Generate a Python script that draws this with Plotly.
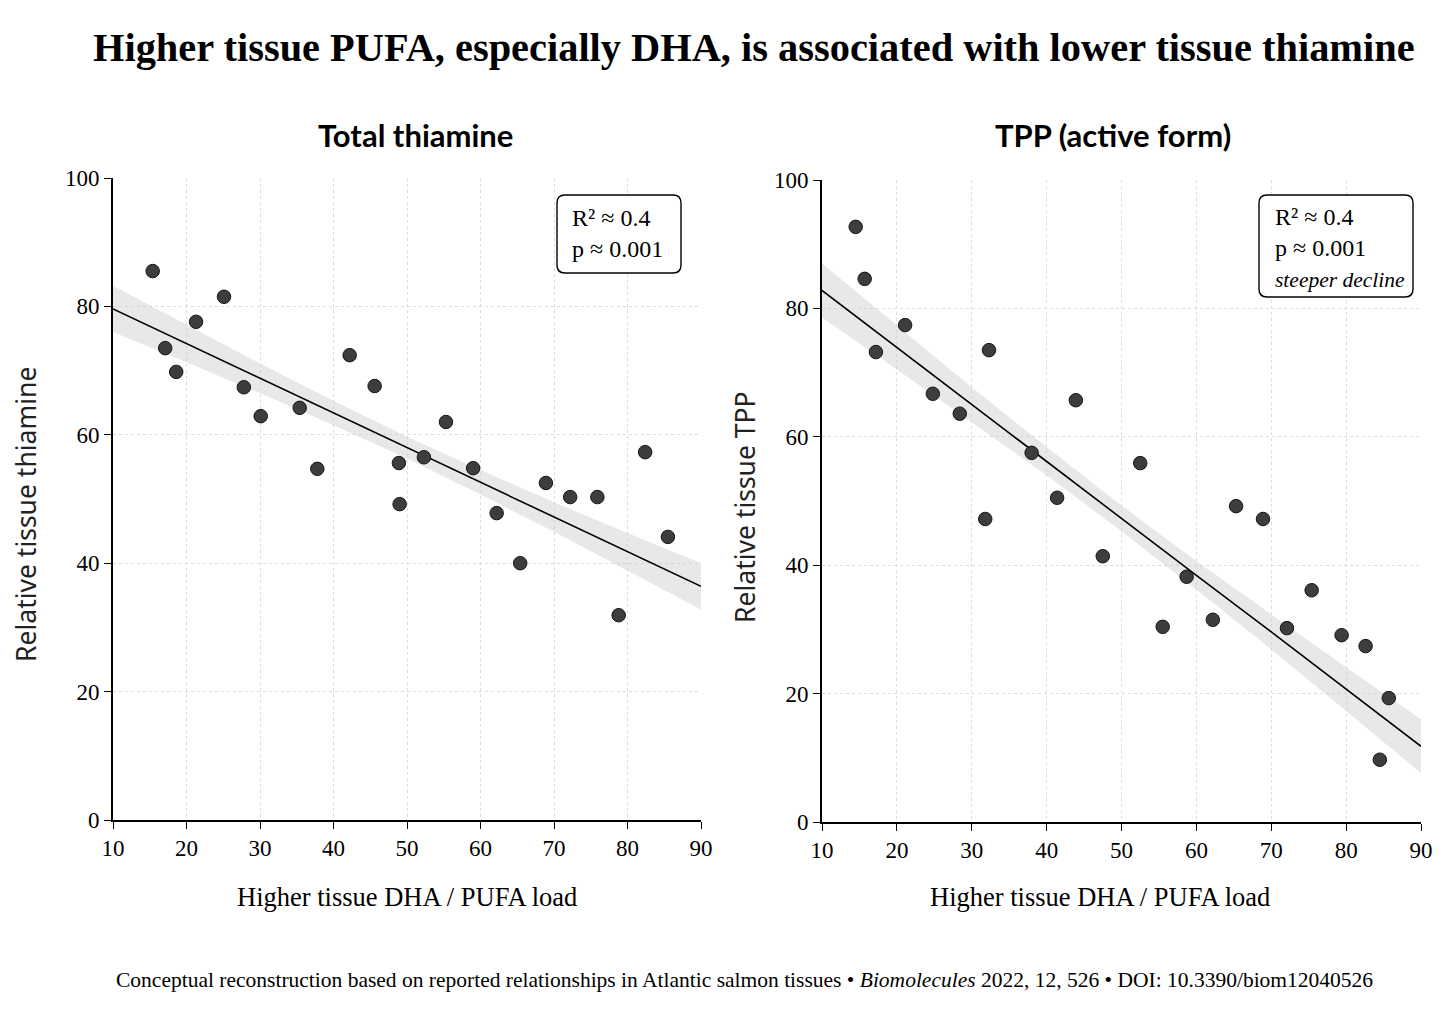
import plotly.graph_objects as go

# Total thiamine panel
thia_x = [15.4, 17.1, 18.6, 21.3, 25.1, 27.8, 30.1, 35.4, 37.8, 42.2, 45.6, 48.9,
          49.0, 52.3, 55.3, 59.0, 62.2, 65.4, 68.9, 72.2, 75.9, 78.8, 82.4, 85.5]
thia_y = [85.5, 73.5, 69.8, 77.6, 81.5, 67.4, 62.9, 64.2, 54.7, 72.4, 67.6, 55.6,
          49.2, 56.5, 62.0, 54.8, 47.8, 40.0, 52.5, 50.3, 50.3, 31.9, 57.3, 44.1]

# TPP panel
tpp_x = [14.5, 15.7, 17.2, 21.1, 24.8, 28.4, 31.8, 32.3, 38.0, 41.4, 43.9, 47.5,
         52.5, 55.5, 58.7, 62.2, 65.3, 68.9, 72.1, 75.4, 79.4, 82.6, 85.7, 84.5]
tpp_y = [92.7, 84.6, 73.2, 77.4, 66.7, 63.6, 47.2, 73.5, 57.5, 50.5, 65.7, 41.4,
         55.9, 30.4, 38.2, 31.5, 49.2, 47.2, 30.2, 36.1, 29.1, 27.4, 19.3, 9.7]

# fitted trend lines and confidence band half-widths, as drawn in the reference
fit_x = [10, 20, 30, 40, 50, 60, 70, 80, 90]
thia_fit = [79.6, 74.2, 68.8, 63.4, 58.0, 52.6, 47.2, 41.8, 36.4]
thia_band = [3.6, 2.9, 2.3, 1.9, 1.7, 1.9, 2.3, 2.9, 3.6]
tpp_fit = [82.8, 73.9, 65.0, 56.2, 47.3, 38.4, 29.6, 20.7, 11.8]
tpp_band = [4.2, 3.4, 2.7, 2.2, 2.0, 2.2, 2.7, 3.4, 4.2]

x_ticks = [10, 20, 30, 40, 50, 60, 70, 80, 90]
y_ticks = [0, 20, 40, 60, 80, 100]

SERIF = "Liberation Serif"
SANS = "Noto Sans"
W, H = 1456, 1030
OFF = 8  # page body margin


def px(x):
    return (x - OFF) / W


def py(y):
    return 1 - (y - OFF) / H


fig = go.Figure()


def add_panel(fig, xs, ys, fy, hw, xa, ya):
    lo = [f - h for f, h in zip(fy, hw)]
    hi = [f + h for f, h in zip(fy, hw)]
    fig.add_trace(go.Scatter(x=fit_x + fit_x[::-1], y=hi + lo[::-1],
                             fill="toself", fillcolor="rgba(205,205,205,0.45)",
                             line=dict(width=0), mode="lines",
                             hoverinfo="skip", xaxis=xa, yaxis=ya))
    fig.add_trace(go.Scatter(x=fit_x, y=fy, mode="lines",
                             line=dict(color="black", width=1.6),
                             xaxis=xa, yaxis=ya))
    fig.add_trace(go.Scatter(x=xs, y=ys, mode="markers",
                             marker=dict(size=13.5, color="#3d3d3d",
                                         line=dict(color="#151515", width=1)),
                             xaxis=xa, yaxis=ya))


add_panel(fig, thia_x, thia_y, thia_fit, thia_band, "x", "y")
add_panel(fig, tpp_x, tpp_y, tpp_fit, tpp_band, "x2", "y2")

axis_common = dict(showline=True, linecolor="black", linewidth=1.6,
                   ticks="outside", ticklen=7, tickcolor="black", tickwidth=1.4,
                   showgrid=True, gridcolor="#dcdcdc", griddash="dot", gridwidth=1,
                   zeroline=False, automargin=False,
                   tickfont=dict(family=SERIF, size=23, color="black"))

fig.update_layout(
    width=W, height=H,
    margin=dict(l=0, r=0, t=0, b=0, pad=0, autoexpand=False),
    paper_bgcolor="white", plot_bgcolor="white",
    showlegend=False,
    xaxis=dict(domain=[px(113), px(701)], range=[10, 90], tickvals=x_ticks, anchor="y", **axis_common),
    yaxis=dict(domain=[py(820), py(178)], range=[0, 100], tickvals=y_ticks, anchor="x", **axis_common),
    xaxis2=dict(domain=[px(822), px(1421)], range=[10, 90], tickvals=x_ticks, anchor="y2", **axis_common),
    yaxis2=dict(domain=[py(822), py(180)], range=[0, 100], tickvals=y_ticks, anchor="x2", **axis_common),
)

anns = [
    dict(text="<b>Higher tissue PUFA, especially DHA, is associated with lower tissue thiamine</b>",
         x=px(754), y=py(47), font=dict(family=SERIF, size=40.4, color="black")),
    dict(text="<b>Total thiamine</b>", x=px(415), y=py(135),
         font=dict(family="Lato", size=31, color="black")),
    dict(text="<b>TPP (active form)</b>", x=px(1113), y=py(135),
         font=dict(family="Lato", size=31, color="black")),
    dict(text="Higher tissue DHA / PUFA load", x=px(407), y=py(897),
         font=dict(family=SERIF, size=26.5, color="black")),
    dict(text="Higher tissue DHA / PUFA load", x=px(1100), y=py(897),
         font=dict(family=SERIF, size=26.5, color="black")),
    dict(text="Relative tissue thiamine", x=px(26), y=py(515), textangle=-90,
         font=dict(family=SANS, size=26.5, color="#222")),
    dict(text="Relative tissue TPP", x=px(745), y=py(507), textangle=-90,
         font=dict(family=SANS, size=26.5, color="#222")),
    dict(text="Conceptual reconstruction based on reported relationships in Atlantic salmon tissues \u2022 "
              "<i>Biomolecules</i> 2022, 12, 526 \u2022 DOI: 10.3390/biom12040526",
         x=px(744), y=py(980), font=dict(family=SERIF, size=21.5, color="black")),
]
for a in anns:
    fig.add_annotation(xref="paper", yref="paper", showarrow=False,
                       xanchor="center", yanchor="middle", **a)


def rounded_box(x0, y0, x1, y1, r=8):
    # pixel box -> paper-space path with rounded corners
    def p(x, y):
        return f"{px(x):.5f},{py(y):.5f}"
    return (f"M {p(x0 + r, y0)} L {p(x1 - r, y0)} Q {p(x1, y0)} {p(x1, y0 + r)} "
            f"L {p(x1, y1 - r)} Q {p(x1, y1)} {p(x1 - r, y1)} "
            f"L {p(x0 + r, y1)} Q {p(x0, y1)} {p(x0, y1 - r)} "
            f"L {p(x0, y0 + r)} Q {p(x0, y0)} {p(x0 + r, y0)} Z")


fig.add_shape(type="path", xref="paper", yref="paper", path=rounded_box(557, 195, 681, 273),
              line=dict(color="black", width=1.4), fillcolor="white", layer="above")
fig.add_shape(type="path", xref="paper", yref="paper", path=rounded_box(1259, 195, 1413, 297),
              line=dict(color="black", width=1.4), fillcolor="white", layer="above")

fig.add_annotation(xref="paper", yref="paper", x=px(570), y=py(233), xanchor="left", yanchor="middle",
                   text="R\u00b2 \u2248 0.4<br>p \u2248 0.001", align="left", showarrow=False,
                   font=dict(family=SERIF, size=24, color="black"))
fig.add_annotation(xref="paper", yref="paper", x=px(1273), y=py(248), xanchor="left", yanchor="middle",
                   text="R\u00b2 \u2248 0.4<br>p \u2248 0.001<br><i><span style='font-size:21.5px'>steeper decline</span></i>",
                   align="left", showarrow=False,
                   font=dict(family=SERIF, size=24, color="black"))

fig.write_html("out.html")
